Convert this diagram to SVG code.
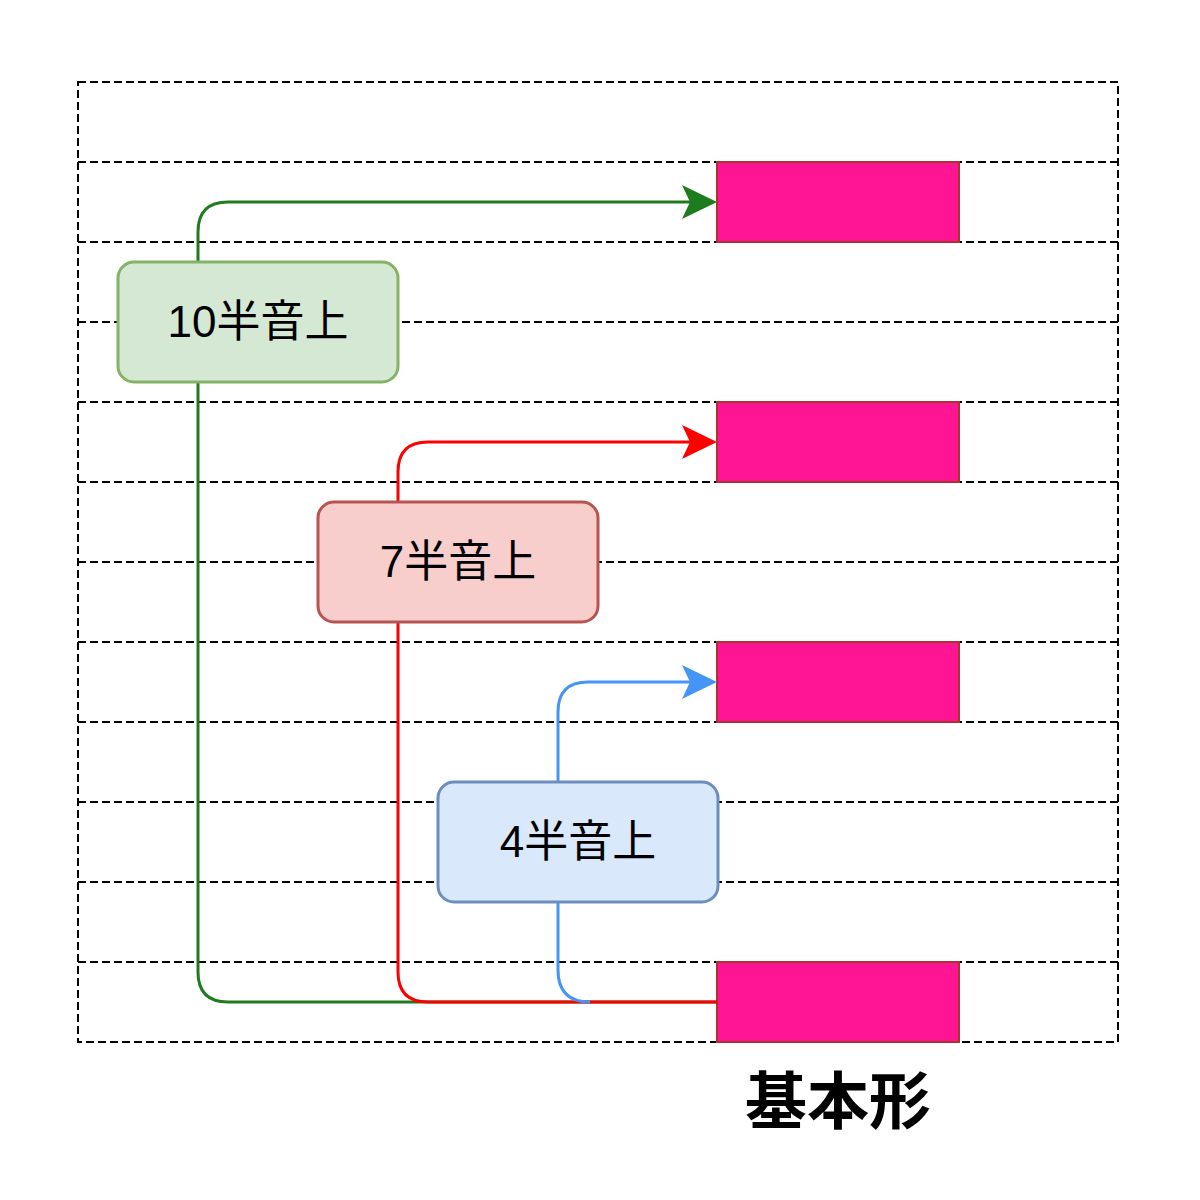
<svg xmlns="http://www.w3.org/2000/svg" width="1200" height="1200" viewBox="0 0 1200 1200">
<style>
.g{fill:none;stroke:#000;stroke-width:2;stroke-dasharray:8 4}
.k{fill:#FF1493;stroke:#A33;stroke-width:2}
.c{fill:none;stroke-width:3}
.t{font-family:"Liberation Sans","Noto Sans CJK JP",sans-serif;font-size:44px;text-anchor:middle;fill:#000}
</style>
<defs>
<marker id="ag" viewBox="0 0 10 10" refX="9" refY="5" markerWidth="12" markerHeight="12" markerUnits="userSpaceOnUse" orient="auto" overflow="visible"><path d="M-24,-7 L9,5 L-24,17 L-16,5Z" fill="#1E7B1E" transform="scale(1)"/></marker>
</defs>
<rect width="1200" height="1200" fill="#fff"/>
<g id="grid">
<rect class="g" x="78" y="82" width="1040" height="960"/>
<path class="g" d="M78 162H1118M78 242H1118M78 322H1118M78 402H1118M78 482H1118M78 562H1118M78 642H1118M78 722H1118M78 802H1118M78 882H1118M78 962H1118"/>
</g>
<g id="bars">
<rect class="k" x="717" y="162" width="242" height="80"/>
<rect class="k" x="717" y="402" width="242" height="80"/>
<rect class="k" x="717" y="642" width="242" height="80"/>
<rect class="k" x="717" y="962" width="242" height="80"/>
</g>
<g id="connectors">
<path class="c" stroke="#1E7B1E" d="M717 1002H228Q198 1002 198 972V232Q198 202 228 202H690"/>
<path d="M717 202L682 185L690 202L682 219Z" fill="#1E7B1E"/>
<path class="c" stroke="#FF0000" d="M717 1002H428Q398 1002 398 972V472Q398 442 428 442H690"/>
<path d="M717 442L682 425L690 442L682 459Z" fill="#FF0000"/>
<path class="c" stroke="#4495F5" d="M590 1002Q558 1002 558 970V712Q558 682 588 682H690"/>
<path d="M717 682L682 665L690 682L682 699Z" fill="#4495F5"/>
</g>
<g id="n10">
<rect x="118" y="262" width="280" height="120" rx="16" fill="#d5e8d4" stroke="#82b366" stroke-width="3"/>
<text class="t" x="258" y="337">10半音上</text>
</g>
<g id="n7">
<rect x="318" y="502" width="280" height="120" rx="16" fill="#f8cecc" stroke="#b85450" stroke-width="3"/>
<text class="t" x="458" y="577">7半音上</text>
</g>
<g id="n4">
<rect x="438" y="782" width="280" height="120" rx="16" fill="#dae8fc" stroke="#6c8ebf" stroke-width="3"/>
<text class="t" x="578" y="857">4半音上</text>
</g>
<g id="label">
<text x="838" y="1124" style="font-family:'Liberation Sans','Noto Sans CJK JP',sans-serif;font-size:62px;font-weight:bold;text-anchor:middle">基本形</text>
</g>
</svg>
